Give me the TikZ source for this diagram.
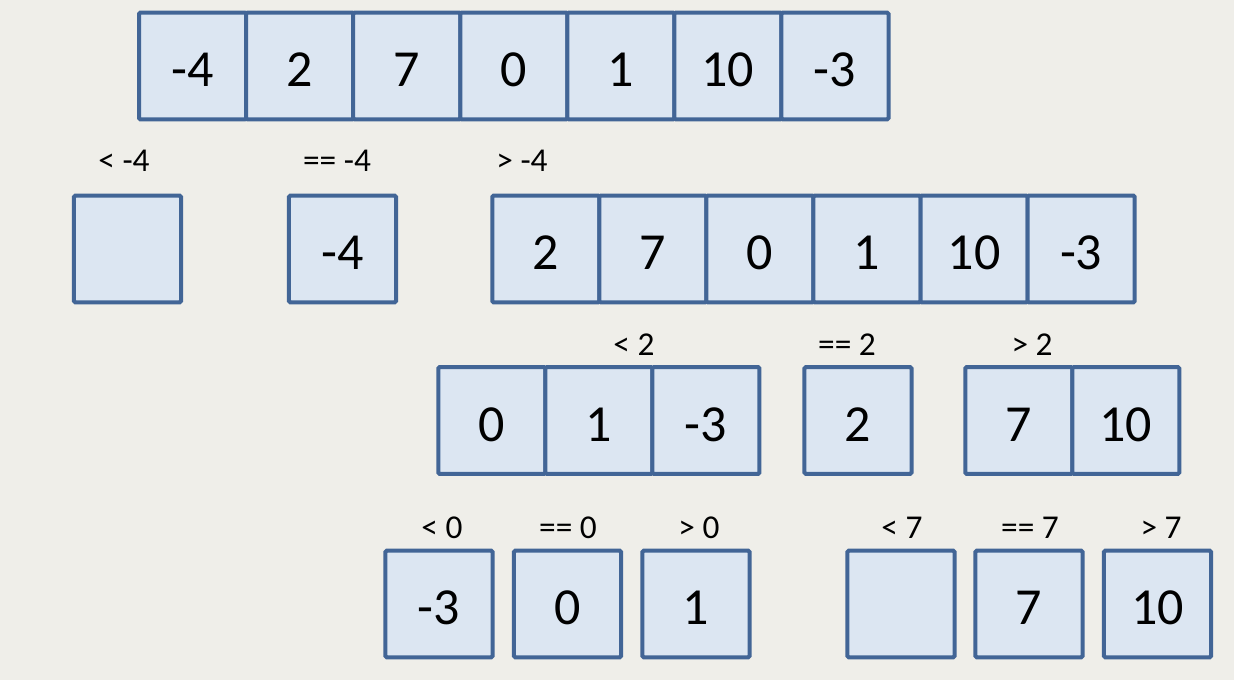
\documentclass[tikz,border=0pt]{standalone}
\usepackage{fontspec}
\setmainfont{Carlito}
\usetikzlibrary{positioning}
\definecolor{cellfill}{RGB}{220,230,242}
\definecolor{celldraw}{RGB}{66,101,150}
\definecolor{paper}{RGB}{239,238,233}
\tikzset{
  cell/.style={draw=celldraw,fill=cellfill,line width=3pt,rounded corners=1pt,
    minimum width=80.3pt,minimum height=80pt,inner sep=0pt,outer sep=0pt,
    text height=31pt,text depth=0pt,
    font=\fontsize{39}{42}\selectfont},
  cond/.style={inner sep=0.75pt,font=\fontsize{25}{28}\selectfont}
}
\begin{document}
\begin{tikzpicture}[x=0.75pt,y=0.75pt,yscale=-1,xscale=1]
%Background
\fill[paper] (0,0) rectangle (1234,680);
\useasboundingbox (0,0) rectangle (1234,680);

%Shape: Array [id:input]
\node[cell] (a1) at (192.6,66) {-4};
\node[cell,right=0pt of a1] (a2) {2};
\node[cell,right=0pt of a2] (a3) {7};
\node[cell,right=0pt of a3] (a4) {0};
\node[cell,right=0pt of a4] (a5) {1};
\node[cell,right=0pt of a5] (a6) {10};
\node[cell,right=0pt of a6] (a7) {-3};

% Text Node
\node[cond] (lessA) at (124,161) {< -4};
\node[cond] (eqA) at (337,161) {== -4};
\node[cond] (moreA) at (522,161) {> -4};

%Shape: Square [id:lessA]
\node[cell] (b0) at (127.5,249) {};
%Shape: Square [id:eqA]
\node[cell] (b1) at (342.5,249) {-4};
%Shape: Array [id:moreA]
\node[cell] (c1) at (545.8,249) {2};
\node[cell,right=0pt of c1] (c2) {7};
\node[cell,right=0pt of c2] (c3) {0};
\node[cell,right=0pt of c3] (c4) {1};
\node[cell,right=0pt of c4] (c5) {10};
\node[cell,right=0pt of c5] (c6) {-3};

% Text Node
\node[cond] (lessB) at (634,345) {< 2};
\node[cond] (eqB) at (847,345) {== 2};
\node[cond] (moreB) at (1032,345) {> 2};

%Shape: Array [id:lessB]
\node[cell] (d1) at (491.8,420.5) {0};
\node[cell,right=0pt of d1] (d2) {1};
\node[cell,right=0pt of d2] (d3) {-3};
%Shape: Square [id:eqB]
\node[cell] (e1) at (858,420.5) {2};
%Shape: Array [id:moreB]
\node[cell] (f1) at (1018.8,420.5) {7};
\node[cell,right=0pt of f1] (f2) {10};

% Text Node
\node[cond] (lessC) at (442,528) {< 0};
\node[cond] (eqC) at (568,528) {== 0};
\node[cond] (moreC) at (699,528) {> 0};
\node[cond] (lessD) at (902,528) {< 7};
\node[cond] (eqD) at (1030,528) {== 7};
\node[cond] (moreD) at (1161,528) {> 7};

%Shape: Square [id:row4]
\node[cell] (g1) at (439,604) {-3};
\node[cell] (g2) at (567.5,604) {0};
\node[cell] (g3) at (696,604) {1};
\node[cell] (h1) at (901,604) {};
\node[cell] (h2) at (1029,604) {7};
\node[cell] (h3) at (1157.5,604) {10};

\end{tikzpicture}
\end{document}
